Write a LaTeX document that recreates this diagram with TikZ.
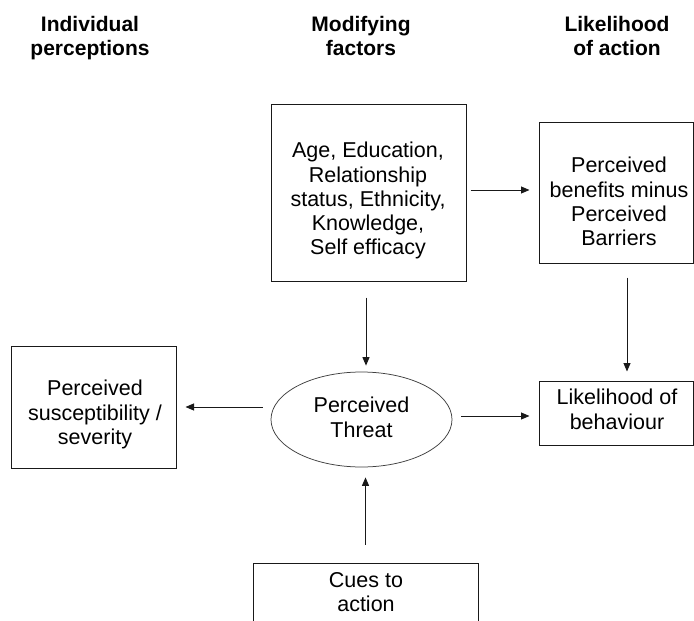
\documentclass[tikz,border=0pt]{standalone}
\usepackage{fontspec}
\setmainfont{Liberation Sans}
\usetikzlibrary{arrows.meta,shapes.geometric,calc}
\begin{document}
\begin{tikzpicture}[x=1pt,y=-1pt,
  box/.style={draw=black!90,line width=1pt,rectangle,inner sep=0pt},
  oval/.style={draw=black!75,line width=0.75pt,ellipse,inner sep=0pt},
  txt/.style={align=center,inner sep=0pt,anchor=north,font=\fontsize{21.5}{24.3}\selectfont},
  head/.style={align=center,inner sep=0pt,anchor=north,font=\fontsize{21}{24}\selectfont\bfseries},
  arr/.style={draw=black!90,line width=1pt,-{Triangle[length=8.5pt,width=7pt]}}]
\useasboundingbox (0,0) rectangle (694,621);
\fill[white] (0,0) rectangle (694,621);
\clip (0,0) rectangle (694,621);
% headers
\node[head] (h1) at (90,16) {Individual\\perceptions};
\node[head] (h2) at (361,16) {Modifying\\factors};
\node[head] (h3) at (617,16) {Likelihood\\of action};
% boxes
\node[box,minimum width=195pt,minimum height=177pt] (top) at (368.5,192.5) {};
\node[box,minimum width=154pt,minimum height=141pt] (benefits) at (616,192.5) {};
\node[box,minimum width=165pt,minimum height=122pt] (sus) at (93.5,407) {};
\node[box,minimum width=154pt,minimum height=64pt] (likely) at (616,413) {};
\node[oval,minimum width=181pt,minimum height=95pt] (threat) at (361.5,419.5) {};
\node[box,minimum width=225pt,minimum height=77pt] (cues) at (365.5,601.5) {};
% texts
\node[txt] (ttop) at (368,142) {Age, Education,\\Relationship\\status, Ethnicity,\\Knowledge,\\Self efficacy};
\node[txt] (tben) at (619,157) {Perceived\\benefits minus\\Perceived\\Barriers};
\node[txt] (tsus) at (95,380) {Perceived\\susceptibility /\\severity};
\node[txt] (tthr) at (361.5,397) {Perceived\\Threat};
\node[txt] (tlik) at (617,389) {Likelihood of\\behaviour};
\node[txt] (tcue) at (366,572) {Cues to\\action};
% connectors
\draw[arr,shorten <=4pt,shorten >=9pt] ([yshift=2.5pt]top.east) -- ([yshift=2.5pt]benefits.west);
\draw[arr,shorten <=14pt,shorten >=9pt] ([xshift=11pt]benefits.south) -- ([xshift=11pt]likely.north);
\coordinate (ts) at ([xshift=-2.5pt]top.south);
\draw[arr,shorten <=16pt,shorten >=6pt] (ts) -- (ts |- threat.north);
\draw[arr,shorten <=8pt,shorten >=9pt] (sus.east -| threat.west) -- (sus.east);
\coordinate (tr) at ([yshift=3.5pt]threat.east);
\draw[arr,shorten <=9pt,shorten >=9pt] (tr) -- (tr -| likely.west);
\draw[arr,shorten <=18pt,shorten >=10pt] (cues.north) -- (cues.north |- threat.south);
\end{tikzpicture}
\end{document}
